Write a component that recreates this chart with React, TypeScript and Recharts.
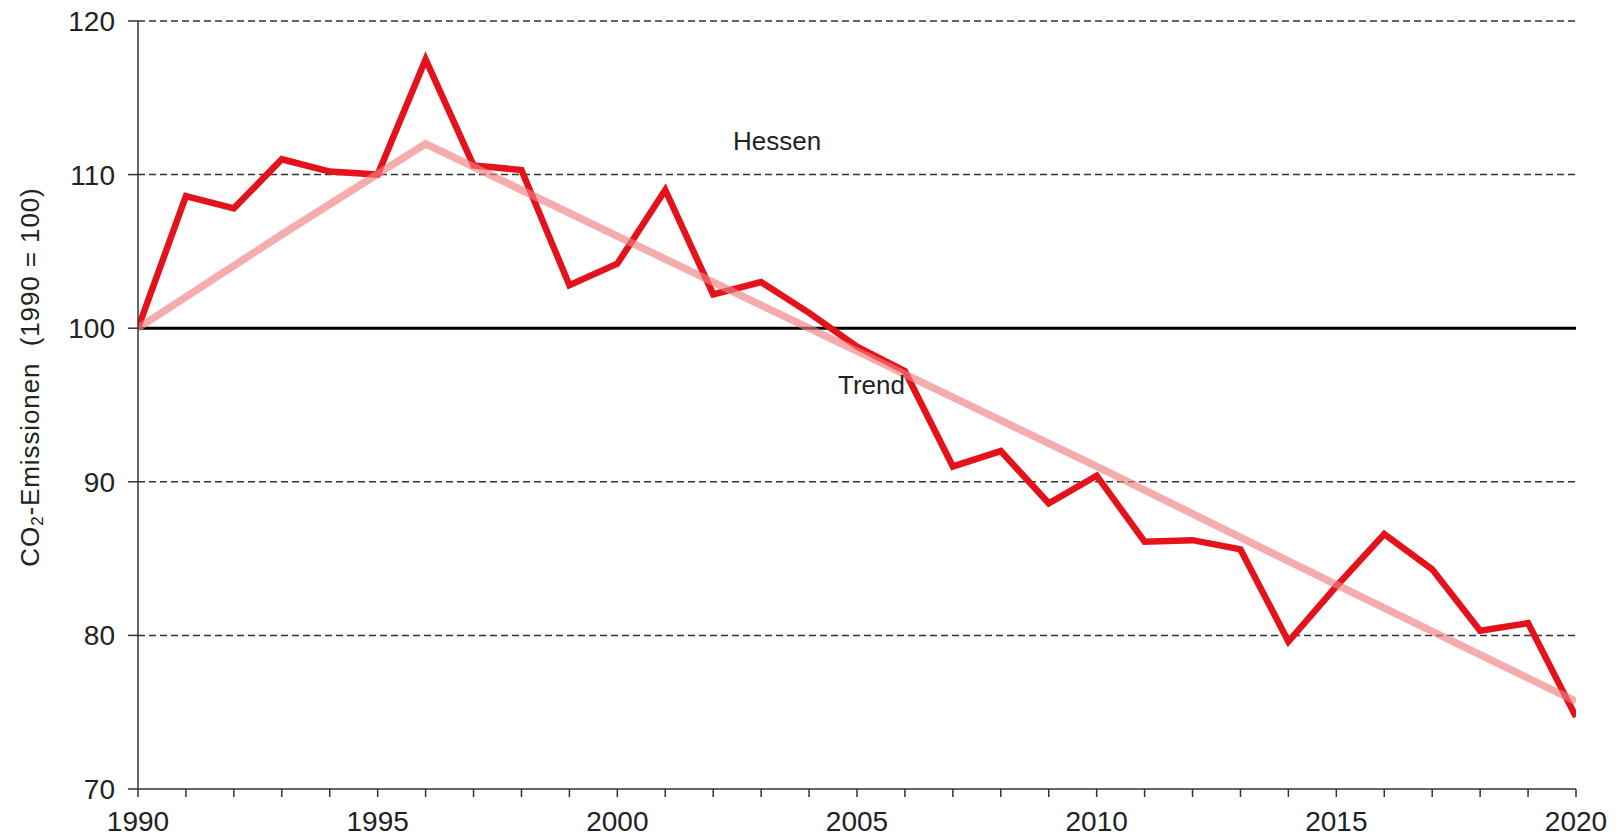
import { Line, LineChart, ReferenceLine, XAxis, YAxis } from 'recharts'

const YEARS = [
  1990, 1991, 1992, 1993, 1994, 1995, 1996, 1997, 1998, 1999, 2000,
  2001, 2002, 2003, 2004, 2005, 2006, 2007, 2008, 2009, 2010,
  2011, 2012, 2013, 2014, 2015, 2016, 2017, 2018, 2019, 2020,
]

// CO2 emissions Hessen, index 1990 = 100
const HESSEN = [
  100, 108.6, 107.8, 111.0, 110.2, 110.0, 117.5, 110.6, 110.3, 102.8, 104.2,
  109.0, 102.2, 103.0, 101.0, 98.8, 97.2, 91.0, 92.0, 88.6, 90.4,
  86.1, 86.2, 85.6, 79.6, 83.2, 86.6, 84.3, 80.3, 80.8, 74.7,
]

const TREND_YEARS = [1990, 1993, 1996, 2000, 2005, 2010, 2015, 2020]
const TREND = [100, 106.1, 112, 106, 98.5, 91, 83.3, 75.7]

const Y_TICKS = [70, 80, 90, 100, 110, 120]
const DASHED_LEVELS = [80, 90, 110, 120]
const LABELED_YEARS = [1990, 1995, 2000, 2005, 2010, 2015, 2020]

const FONT = '"Liberation Sans", Arial, sans-serif'
const TEXT_COLOR = '#222'
const AXIS_COLOR = '#333'

const hessenData = YEARS.map((year, i) => ({ year, value: HESSEN[i] }))
const trendData = TREND_YEARS.map((year, i) => ({ year, value: TREND[i] }))

export default function App() {
  return (
    <div style={{ position: 'fixed', left: 0, top: 0, width: 1620, height: 836, background: '#fff', fontFamily: FONT }}>
      <LineChart width={1620} height={836} margin={{ top: 21, right: 44, bottom: 0, left: 0 }}>
        <XAxis
          allowDataOverflow
          axisLine={{ stroke: AXIS_COLOR, strokeWidth: 1.5 }}
          dataKey="year"
          domain={[1990, 2020]}
          height={47}
          interval={0}
          tick={{ fill: TEXT_COLOR, fontSize: 28, fontFamily: FONT }}
          tickFormatter={(v: number) => (LABELED_YEARS.includes(v) ? String(v) : '')}
          tickLine={{ stroke: AXIS_COLOR, strokeWidth: 1.5 }}
          tickMargin={14}
          tickSize={8}
          ticks={YEARS}
          type="number"
        />
        <YAxis
          axisLine={{ stroke: AXIS_COLOR, strokeWidth: 1.5 }}
          domain={[70, 120]}
          interval={0}
          tick={{ fill: TEXT_COLOR, fontSize: 28, fontFamily: FONT }}
          tickLine={{ stroke: AXIS_COLOR, strokeWidth: 1.5 }}
          tickMargin={13}
          tickSize={10}
          ticks={Y_TICKS}
          type="number"
          width={138}
        />
        {DASHED_LEVELS.map((level) => (
          <ReferenceLine key={level} y={level} stroke={AXIS_COLOR} strokeWidth={1.5} strokeDasharray="7 4" />
        ))}
        <ReferenceLine y={100} stroke="#000" strokeWidth={3} />
        <Line
          data={hessenData}
          dataKey="value"
          dot={false}
          isAnimationActive={false}
          stroke="#e4131b"
          strokeWidth={6.5}
          type="linear"
        />
        <Line
          data={trendData}
          dataKey="value"
          dot={false}
          isAnimationActive={false}
          stroke="#f08080"
          strokeOpacity={0.65}
          strokeWidth={7.5}
          type="linear"
        />
      </LineChart>

      <div style={{ position: 'absolute', left: 733, top: 126, fontSize: 26, lineHeight: '30px', color: TEXT_COLOR }}>Hessen</div>
      <div style={{ position: 'absolute', left: 838, top: 370, fontSize: 26, lineHeight: '30px', color: TEXT_COLOR }}>Trend</div>

      <div
        style={{
          position: 'absolute',
          left: 30,
          top: 377,
          transform: 'translate(-50%, -50%) rotate(-90deg)',
          whiteSpace: 'nowrap',
          fontSize: 26,
          letterSpacing: 0.9,
          color: TEXT_COLOR,
        }}
      >
        CO<sub style={{ fontSize: 17, verticalAlign: '-0.25em', lineHeight: 0 }}>2</sub>-Emissionen&nbsp; (1990 = 100)
      </div>
    </div>
  )
}
